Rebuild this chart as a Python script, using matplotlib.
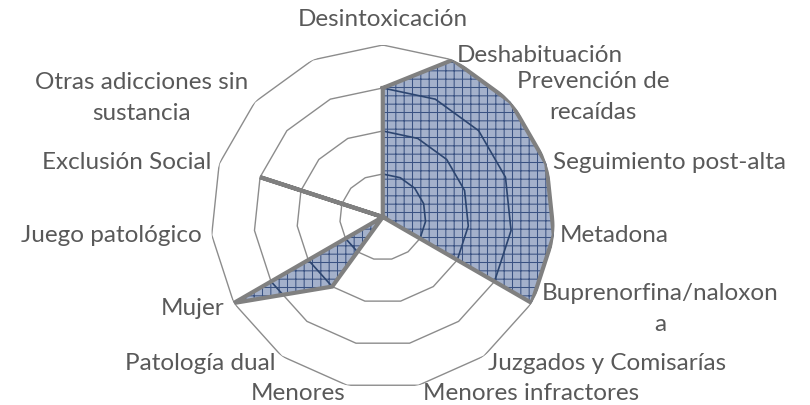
import numpy as np
import matplotlib
matplotlib.use("Agg")
import matplotlib.pyplot as plt

plt.rcParams['font.family'] = ['Lato', 'DejaVu Sans']
plt.rcParams['hatch.linewidth'] = 0.75

# ---- data ----
categories = ["Desintoxicación", "Deshabituación", "Prevención de\nrecaídas",
              "Seguimiento post-alta", "Metadona", "Buprenorfina/naloxon\na",
              "Juzgados y Comisarías", "Menores infractores", "Menores",
              "Patología dual", "Mujer", "Juego patológico", "Exclusión Social",
              "Otras adicciones sin\nsustancia", ""]
values = [3, 4, 4, 4, 4, 4, 0, 0, 0, 2, 4, 0, 3, 0, 0]
ring_levels = [1, 2, 3, 4]

# ---- layout (label offsets in pixels from the outer vertex) ----
label_offsets = [(0, 26, 'center'), (4, 5, 'left'), (6, 6, 'left'), (7, 2, 'left'),
                 (6, 0, 'left'), (10, -5, 'left'), (4, -6, 'left'), (4, -7, 'left'),
                 (-2, -7, 'right'), (-6, -6, 'right'), (-9, -4, 'right'),
                 (-10, 0, 'right'), (-8, 2, 'right'), (-7, 5, 'right'), (0, 0, 'center')]

n = len(categories)
theta = np.arange(n) * 2 * np.pi / n
theta_c = np.append(theta, theta[0])

fig = plt.figure(figsize=(8.1, 4.06), dpi=100)
ax = fig.add_axes([0.2602, 0.0394, 0.4247, 0.8473], projection='polar')
ax.set_theta_zero_location('N')
ax.set_theta_direction(-1)
ax.set_ylim(0, max(ring_levels))
ax.grid(False)
ax.spines['polar'].set_visible(False)
ax.set_xticks([])
ax.set_yticks([])
ax.patch.set_visible(False)

# rings
for lv in ring_levels:
    ax.plot(theta_c, [lv] * (n + 1), color='#8C8C8C', lw=1.0, zorder=1)

vals_c = np.append(values, values[0])
fill = ax.fill(theta_c, vals_c, facecolor='#A4B1CB', edgecolor='#3A5282',
               linewidth=0, hatch='++', zorder=2)[0]
# rings inside the filled area appear dark navy
for lv in ring_levels:
    ln, = ax.plot(theta_c, [lv] * (n + 1), color='#2C4570', lw=1.2, zorder=3)
    ln.set_clip_path(fill)
ax.plot(theta_c, vals_c, color='#808080', lw=3.0, zorder=4,
        solid_joinstyle='miter')

rmax = max(ring_levels)
for t, lab, (dx, dy, ha) in zip(theta, categories, label_offsets):
    if not lab:
        continue
    ax.annotate(lab, xy=(t, rmax), xytext=(dx, dy), textcoords='offset pixels',
                ha=ha, va='center', multialignment='center',
                fontsize=17.5, color='#595959', linespacing=1.6,
                annotation_clip=False)

fig.savefig('out.png', dpi=100)
